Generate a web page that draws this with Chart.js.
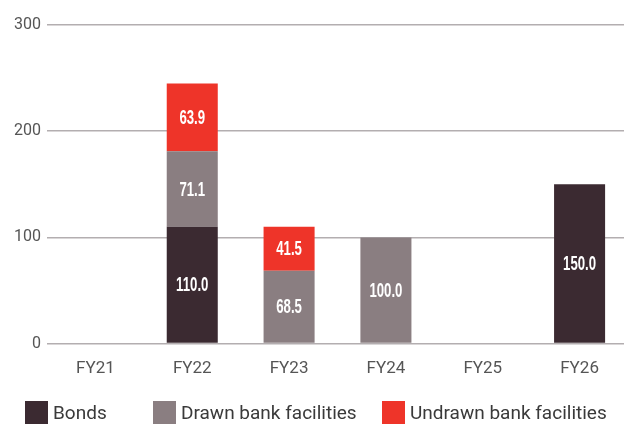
<!DOCTYPE html>
<html>
<head>
<meta charset="utf-8">
<script src="https://cdn.jsdelivr.net/npm/chart.js@4.4.1/dist/chart.umd.min.js"></script>
<style>
    html, body { margin: 0; padding: 0; background: #fff; overflow: hidden; }
    #wrap { position: relative; width: 628px; height: 425px; }
    #legend .box { position: absolute; top: 401px; width: 23px; height: 23px; }
    #legend .txt { position: absolute; top: 401px; height: 23px; line-height: 23px;
        font-family: Roboto, "Noto Sans", sans-serif; font-size: 19px; color: #3a3a3a; white-space: nowrap; }
</style>
</head>
<body>
<div id="wrap">
    <canvas id="debtChart" width="628" height="425"></canvas>
    <div id="legend"></div>
</div>
<script>
// Maturity profile (£m)
const categories = ['FY21', 'FY22', 'FY23', 'FY24', 'FY25', 'FY26'];
const bonds = [null, 110.0, null, null, null, 150.0];
const drawnFacilities = [null, 71.1, 68.5, 100.0, null, null];
const undrawnFacilities = [null, 63.9, 41.5, null, null, null];
const yTicks = [0, 100, 200, 300];

const seriesNames = ['Bonds', 'Drawn bank facilities', 'Undrawn bank facilities'];
const seriesColors = ['#3b2a31', '#8a7e81', '#ee3429'];
const legendX = [25, 153, 382];

// white value labels centred in each segment (squeezed to look condensed)
const segmentLabels = {
    id: 'segmentLabels',
    afterDatasetsDraw(chart) {
        const ctx = chart.ctx;
        chart.data.datasets.forEach((ds, i) => {
            const meta = chart.getDatasetMeta(i);
            meta.data.forEach((bar, j) => {
                const v = ds.data[j];
                if (v == null) return;
                ctx.save();
                ctx.fillStyle = '#fff';
                ctx.font = 'bold 20px "Liberation Sans", Arial, sans-serif';
                ctx.textAlign = 'center';
                ctx.textBaseline = 'middle';
                ctx.translate(bar.x, (bar.y + bar.base) / 2 + 1);
                ctx.scale(0.66, 1);
                ctx.fillText(v.toFixed(1), 0, 0);
                ctx.restore();
            });
        });
    }
};

const barOpts = { barPercentage: 0.527, categoryPercentage: 1.0, borderWidth: 0 };

new Chart(document.getElementById('debtChart').getContext('2d'), {
    type: 'bar',
    data: {
        labels: categories,
        datasets: [
            { label: seriesNames[0], data: bonds, backgroundColor: seriesColors[0], ...barOpts },
            { label: seriesNames[1], data: drawnFacilities, backgroundColor: seriesColors[1], ...barOpts },
            { label: seriesNames[2], data: undrawnFacilities, backgroundColor: seriesColors[2], ...barOpts }
        ]
    },
    options: {
        responsive: false,
        animation: false,
        layout: { padding: { top: 25, bottom: 31, left: 0, right: 0 } },
        scales: {
            x: {
                stacked: true,
                grid: { display: false, drawTicks: false },
                border: { display: false },
                ticks: { color: '#555', padding: 15, font: { family: 'Roboto', size: 17 } }
            },
            y: {
                stacked: true,
                min: yTicks[0],
                max: yTicks[yTicks.length - 1],
                afterBuildTicks: (scale) => { scale.ticks = yTicks.map(v => ({ value: v })); },
                afterFit: (scale) => { scale.width = 47; },
                border: { display: false },
                grid: { color: '#b3aeb0', lineWidth: 1.5, drawTicks: false },
                ticks: { color: '#555', padding: 6, font: { family: 'Roboto', size: 16 } }
            }
        },
        plugins: { legend: { display: false }, tooltip: { enabled: false } }
    },
    plugins: [segmentLabels]
});

// HTML legend built from the series arrays
document.getElementById('legend').innerHTML = seriesNames.map((name, i) => `
    <div class="box" style="left:${legendX[i]}px;background:${seriesColors[i]}"></div>
    <div class="txt" style="left:${legendX[i] + 28}px">${name}</div>
`).join('');
</script>
</body>
</html>
